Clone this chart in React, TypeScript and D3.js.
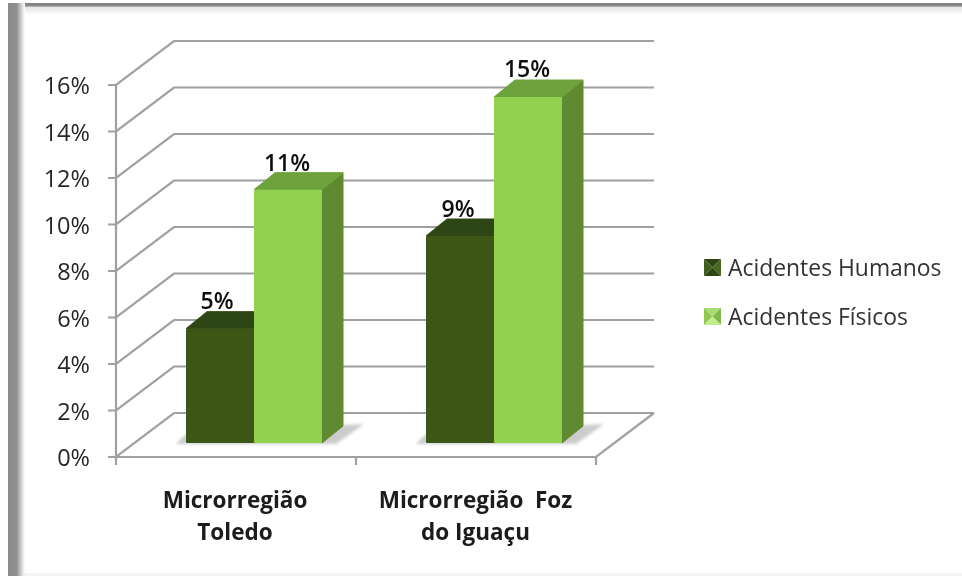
import React from "react";
import * as d3 from "d3";

const categories = [["Microrregião", "Toledo"], ["Microrregião  Foz", "do Iguaçu"]];
const seriesNames = ["Acidentes Humanos", "Acidentes Físicos"];
const humanos = [5, 9];
const fisicos = [11, 15];
const yTicks = [0, 2, 4, 6, 8, 10, 12, 14, 16];

const FONT = "'Open Sans', 'Noto Sans', sans-serif";
const GRID = "#a0a0a0";
const DARK = { front: "#3c5719", top: "#2f4512", side: "#2c4210" };
const LIGHT = { front: "#92d050", top: "#6ea23c", side: "#5f8a32" };

const y = d3.scaleLinear().domain([0, 16]).range([457, 85]);
const yBar = d3.scaleLinear().domain([0, 15]).range([444.5, 97]);
const x0 = d3.scaleBand<number>().domain([0, 1]).range([116, 596]);
const depth = { dx: 58, dy: -44 };
const barDepth = { dx: 21, dy: -17 };
const barW = 68;

function pts(p: number[][]) {
  return p.map((d) => d.join(",")).join(" ");
}

function Bar({ x, v, c }: { x: number; v: number; c: typeof DARK }) {
  const t = yBar(v);
  const b = 443;
  const { dx, dy } = barDepth;
  return (
    <g>
      <polygon points={pts([[x + barW, t], [x + barW + dx, t + dy], [x + barW + dx, b + dy], [x + barW, b]])} fill={c.side} stroke={c.side} strokeWidth={1} strokeLinejoin="round" />
      <polygon points={pts([[x, t], [x + dx, t + dy], [x + barW + dx, t + dy], [x + barW, t]])} fill={c.top} stroke={c.top} strokeWidth={1} strokeLinejoin="round" />
      <rect x={x} y={t} width={barW} height={b - t} fill={c.front} rx={1.5} />
    </g>
  );
}

function Swatch({ x, yy, dark }: { x: number; yy: number; dark: boolean }) {
  const s = 17;
  const c = dark ? ["#2f4512", "#3f5f1c", "#46681f", "#2f4512"] : ["#a8dc6c", "#8cc850", "#80b848", "#c4ec8c"];
  const m = [x + s / 2, yy + s / 2];
  return (
    <g>
      <polygon points={pts([[x, yy], [x + s, yy], m])} fill={c[0]} />
      <polygon points={pts([[x, yy], [x, yy + s], m])} fill={c[1]} />
      <polygon points={pts([[x + s, yy], [x + s, yy + s], m])} fill={c[2]} />
      <polygon points={pts([[x, yy + s], [x + s, yy + s], m])} fill={c[3]} />
    </g>
  );
}

export default function App() {
  const bx = [186, 426];
  const labels: [number, number, string, number][] = [
    [217, 309, "5%", 600],
    [287, 171, "11%", 600],
    [458, 217, "9%", 600],
    [527, 77, "15%", 600],
  ];
  return (
    <svg width={962} height={576} style={{ position: "absolute", left: 0, top: 0, display: "block" }} fontFamily={FONT}>
      <defs>
        <linearGradient id="lf" x1="0" x2="1" y1="0" y2="0">
          <stop offset="0" stopColor="#8a8a8a" />
          <stop offset="0.5" stopColor="#8f8f8f" />
          <stop offset="1" stopColor="#ffffff" />
        </linearGradient>
        <linearGradient id="tp" x1="0" x2="0" y1="0" y2="1">
          <stop offset="0" stopColor="#808080" />
          <stop offset="0.25" stopColor="#8c8c8c" />
          <stop offset="0.35" stopColor="#e4e4e4" />
          <stop offset="1" stopColor="#ffffff" />
        </linearGradient>
        <filter id="soft" x="-5%" y="-5%" width="110%" height="110%"><feGaussianBlur stdDeviation="0.5" /></filter>
        <filter id="shad" x="-20%" y="-100%" width="140%" height="300%"><feGaussianBlur stdDeviation="1.6" /></filter>
      </defs>
      <rect width={962} height={576} fill="#fff" />
      <rect x={8} y={3} width={954} height={12} fill="url(#tp)" />
      <rect x={8} y={3} width={17} height={573} fill="url(#lf)" />
      <rect x={24} y={573} width={938} height={3} fill="#f4f4f4" />

      <g filter="url(#soft)">
        <g stroke={GRID} strokeWidth={2.2} fill="none">
          {yTicks.map((t) => (
            <g key={t}>
              <polyline points={pts([[108, y(t)], [116, y(t)], [116 + depth.dx, y(t) + depth.dy], [654, y(t) + depth.dy]])} />
            </g>
          ))}
          <line x1={116} x2={116} y1={y(0)} y2={y(16)} />
          <polyline points={pts([[116, y(0)], [596, y(0)], [654, y(0) + depth.dy]])} />
          {[0, 1, 2].map((i) => {
            const tx = i < 2 ? (x0(i) as number) : 596;
            return <line key={i} x1={tx} x2={tx} y1={y(0)} y2={y(0) + 8} />;
          })}
        </g>
        {bx.map((x, i) => (
          <g key={i}>
            <polygon points={pts([[x - 10, 444], [x, 434], [x + 2 * barW + 42, 424], [x + 2 * barW + 14, 444]])} fill="#9a9a9a" opacity={0.5} filter="url(#shad)" />
            <Bar x={x} v={humanos[i]} c={DARK} />
            <Bar x={x + barW} v={fisicos[i]} c={LIGHT} />
          </g>
        ))}
        {yTicks.map((t) => (
          <text key={t} x={90} y={y(t) + 9} textAnchor="end" fontSize={23.5} fill="#262626">{t}%</text>
        ))}
        {labels.map(([lx, ly, s, w]) => (
          <text key={s} x={lx} y={ly} textAnchor="middle" fontSize={23} fontWeight={w} fill="#111">{s}</text>
        ))}
        {categories.map((lines, i) => (
          <text key={i} textAnchor="middle" fontSize={22.5} fontWeight={700} fill="#1a1a1a">
            {lines.map((l, j) => (
              <tspan key={j} x={[235, 475.5][i]} y={508 + j * 32} style={{ whiteSpace: "pre" }}>{l}</tspan>
            ))}
          </text>
        ))}
        {seriesNames.map((n, i) => (
          <g key={n}>
            <Swatch x={704} yy={259 + i * 49} dark={i === 0} />
            <text x={728} y={275.5 + i * 49.5} fontSize={22.9} fill="#333">{n}</text>
          </g>
        ))}
      </g>
    </svg>
  );
}
